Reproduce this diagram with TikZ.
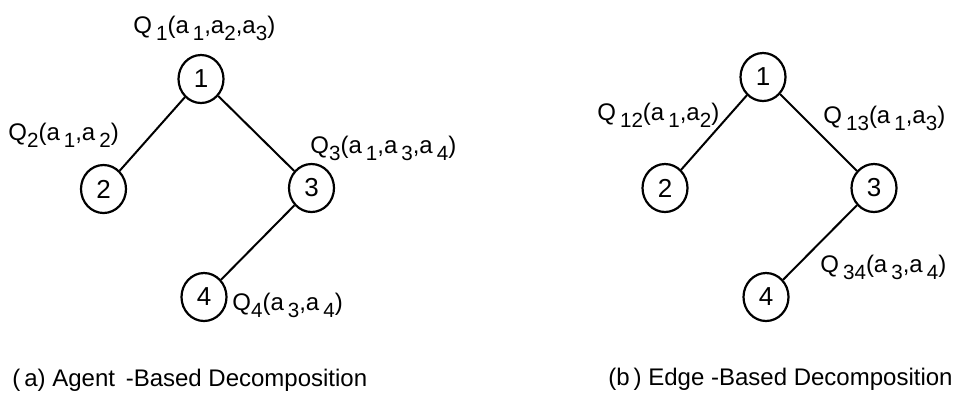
\documentclass[tikz,border=0pt]{standalone}
\usepackage{fontspec}
\setmainfont{Liberation Sans}
\usetikzlibrary{shapes.geometric}
\newcommand{\lsub}[1]{\raisebox{-0.32em}{\fontsize{10.3}{11}\selectfont #1}}
\tikzset{
  vtx/.style={draw, line width=1.1pt, ellipse, minimum width=22.5pt, minimum height=24pt, inner sep=0pt, font=\fontsize{13}{15}\selectfont},
  lbl/.style={anchor=base west, inner sep=0pt, font=\fontsize{12}{14}\selectfont},
  edge/.style={line width=1pt}
}
\begin{document}
\begin{tikzpicture}[x=0.5pt, y=-0.5pt]
\useasboundingbox (0,0) rectangle (956,393);
% panel (a)
\node[vtx] (a1) at (201,79) {1};
\node[vtx] (a2) at (103.5,189) {2};
\node[vtx] (a3) at (311.5,188) {3};
\node[vtx] (a4) at (204,297) {4};
\draw[edge] (a1) -- (a2);
\draw[edge] (a1) -- (a3);
\draw[edge] (a3) -- (a4);
\node[lbl] (qa1) at (133,33) {Q\,\lsub{1}(a\,\lsub{1},a\lsub{2},a\lsub{3})};
\node[lbl] (qa2) at (8,140) {Q\lsub{2}(a\,\lsub{1},a\,\lsub{2})};
\node[lbl] (qa3) at (310,153) {Q\lsub{3}(a\,\lsub{1},a\,\lsub{3},a\,\lsub{4})};
\node[lbl] (qa4) at (232,310) {Q\lsub{4}(a\,\lsub{3},a\,\lsub{4})};
\node[lbl] (capa) at (12,386) {(\,a) Agent\, -Based Decomposition};
% panel (b)
\node[vtx] (b1) at (763,77) {1};
\node[vtx] (b2) at (665,188) {2};
\node[vtx] (b3) at (874,188) {3};
\node[vtx] (b4) at (766,297) {4};
\draw[edge] (b1) -- (b2);
\draw[edge] (b1) -- (b3);
\draw[edge] (b3) -- (b4);
\node[lbl] (qb12) at (597,120) {Q\,\lsub{12}(a\,\lsub{1},a\lsub{2})};
\node[lbl] (qb13) at (823,123) {Q\,\lsub{13}(a\,\lsub{1},a\lsub{3})};
\node[lbl] (qb34) at (820,272) {Q\,\lsub{34}(a\,\lsub{3},a\,\lsub{4})};
\node[lbl] (capb) at (608,385) {(b\,) Edge -Based Decomposition};
\end{tikzpicture}
\end{document}
